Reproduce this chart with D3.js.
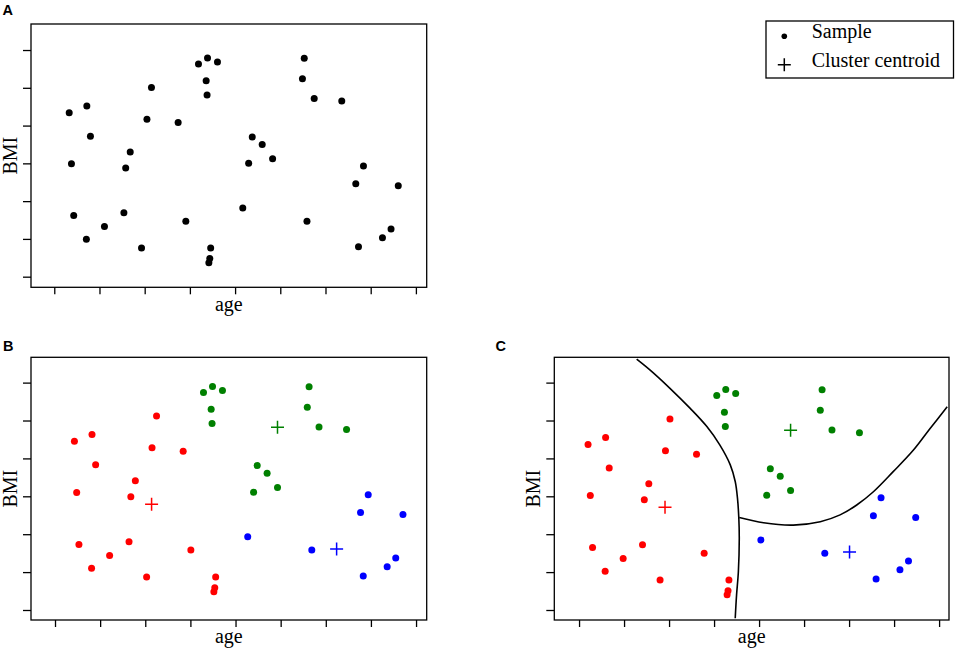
<!DOCTYPE html>
<html>
<head>
<meta charset="utf-8">
<script src="https://cdn.jsdelivr.net/npm/d3@7"></script>
<style>
  body { margin: 0; background: #fff; }
  svg { display: block; }
</style>
</head>
<body>
<svg id="chart" width="957" height="650"></svg>
<script>
// sample positions, in tick units of panel A
const age = [0.33, 0.72, 0.80, 0.38, 0.43, 0.71, 1.11, 1.54, 1.58, 1.68, 1.93, 2.05, 2.15, 2.74, 2.91,
  3.19, 3.39, 3.61, 3.36, 3.38, 3.46, 3.44, 3.42, 4.17, 4.30, 4.38, 4.60, 4.83, 5.49, 5.53, 5.75,
  5.59, 6.36, 6.67, 6.84, 6.73, 7.26, 7.45, 7.61];
const bmi = [4.34, 4.52, 3.72, 2.99, 1.62, 0.99, 1.33, 1.69, 2.88, 3.30, 0.76, 4.17, 5.01, 4.08, 1.47,
  5.63, 5.79, 5.68, 5.19, 4.81, 0.76, 0.48, 0.37, 1.82, 3.00, 3.70, 3.50, 3.12, 5.24, 5.78, 4.72,
  1.47, 4.65, 2.46, 2.93, 0.79, 1.03, 1.26, 2.41];
const cluster = [0, 0, 0, 0, 0, 0, 0, 0, 0, 0, 0, 0, 0, 0, 0,
  1, 1, 1, 1, 1, 0, 0, 0, 2, 1, 1, 1, 1, 1, 1, 1,
  2, 1, 2, 2, 2, 2, 2, 2];

const clusterColors = ["#ff0000", "#008000", "#0000ff"];
const centroidAge = [2.04, 4.83, 6.14];
const centroidBmi = [2.68, 4.71, 1.50];

// decision boundaries in panel C
const boundary1Age = [1.41, 1.71, 2.15, 2.60, 2.97, 3.26, 3.49, 3.60, 3.65, 3.68, 3.69, 3.67, 3.63, 3.60];
const boundary1Bmi = [6.59, 6.30, 5.82, 5.29, 4.81, 4.32, 3.80, 3.36, 2.92, 2.39, 1.86, 0.98, 0.37, -0.25];
const boundary2Age = [3.69, 4.23, 4.89, 5.49, 5.93, 6.30, 6.67, 7.11, 7.56, 7.93, 8.31];
const boundary2Bmi = [2.41, 2.27, 2.21, 2.30, 2.48, 2.74, 3.09, 3.62, 4.19, 4.76, 5.33];

const ageTicks = [0, 1, 2, 3, 4, 5, 6, 7, 8];
const bmiTicks = [0, 1, 2, 3, 4, 5, 6];

const legendLabels = ["Sample", "Cluster centroid"];

const panels = [
  { label: "A", left: 31, top: 24, width: 395.7, height: 263.3,
    xDom: [-0.515, 8.239], yDom: [-0.281, 6.689], xShift: 0, yShift: 0,
    labelX: 2.5, labelY: 14.5, colored: false, centroids: false, lines: false },
  { label: "B", left: 31, top: 357.3, width: 395.7, height: 262.7,
    xDom: [-0.632, 8.136], yDom: [-0.374, 6.558], xShift: -0.1, yShift: -0.11,
    labelX: 3, labelY: 351, colored: true, centroids: true, lines: false },
  { label: "C", left: 554.3, top: 357.3, width: 394.7, height: 262.7,
    xDom: [-0.42, 8.35], yDom: [-0.294, 6.638], xShift: 0.13, yShift: -0.03,
    labelX: 495.5, labelY: 350.5, colored: true, centroids: true, lines: true }
];

const svg = d3.select("#chart");
const serif = "'Liberation Serif', 'Times New Roman', serif";
const plusPath = "M-6.5,0H6.5M0,-6.5V6.5";

const samples = age.map((a, i) => ({ age: a, bmi: bmi[i], cluster: cluster[i] }));

panels.forEach((p, pi) => {
  const x = d3.scaleLinear().domain(p.xDom).range([0, p.width]);
  const y = d3.scaleLinear().domain(p.yDom).range([p.height, 0]);

  const g = svg.append("g").attr("transform", `translate(${p.left},${p.top})`);

  svg.append("text")
    .attr("x", p.labelX).attr("y", p.labelY)
    .style("font-family", "'Liberation Sans', Arial, sans-serif")
    .style("font-weight", "bold")
    .style("font-size", "14.5px")
    .text(p.label);

  // axes: ticks only, no labels
  const xAxis = g.append("g")
    .attr("transform", `translate(0,${p.height})`)
    .call(d3.axisBottom(x).tickValues(ageTicks.map(t => t + p.xShift)).tickSize(7).tickFormat(""));
  const yAxis = g.append("g")
    .call(d3.axisLeft(y).tickValues(bmiTicks.map(t => t + p.yShift)).tickSize(8).tickFormat(""));
  [xAxis, yAxis].forEach(ax => {
    ax.select(".domain").remove();
    ax.selectAll(".tick line").attr("stroke", "#000").attr("stroke-width", 1.3);
  });

  g.append("text")
    .attr("x", p.width / 2).attr("y", p.height + 23.5)
    .attr("text-anchor", "middle")
    .style("font-family", serif).style("font-size", "20px")
    .text("age");
  g.append("text")
    .attr("transform", `translate(-14.5,${p.height / 2}) rotate(-90)`)
    .attr("text-anchor", "middle")
    .style("font-family", serif).style("font-size", "20px")
    .text("BMI");

  const clipId = "clip" + pi;
  g.append("clipPath").attr("id", clipId)
    .append("rect").attr("width", p.width).attr("height", p.height);

  if (p.lines) {
    const line = d3.line()
      .x(d => x(d[0])).y(d => y(d[1]))
      .curve(d3.curveCatmullRom);
    [[boundary1Age, boundary1Bmi], [boundary2Age, boundary2Bmi]].forEach(([xs, ys]) => {
      g.append("path")
        .attr("clip-path", `url(#${clipId})`)
        .attr("d", line(xs.map((v, i) => [v, ys[i]])))
        .attr("fill", "none")
        .attr("stroke", "#000")
        .attr("stroke-width", 1.6);
    });
  }

  g.selectAll("circle.sample")
    .data(samples)
    .enter().append("circle")
    .attr("class", "sample")
    .attr("cx", d => x(d.age))
    .attr("cy", d => y(d.bmi))
    .attr("r", 3.5)
    .attr("fill", d => p.colored ? clusterColors[d.cluster] : "#000");

  if (p.centroids) {
    g.selectAll("path.centroid")
      .data(centroidAge.map((a, i) => ({ age: a, bmi: centroidBmi[i], color: clusterColors[i] })))
      .enter().append("path")
      .attr("class", "centroid")
      .attr("transform", d => `translate(${x(d.age)},${y(d.bmi)})`)
      .attr("d", plusPath)
      .attr("stroke", d => d.color)
      .attr("stroke-width", 1.5);
  }

  g.append("rect")
    .attr("width", p.width).attr("height", p.height)
    .attr("fill", "none")
    .attr("stroke", "#000")
    .attr("stroke-width", 1.3);
});

// legend
const legend = svg.append("g").attr("transform", "translate(766,21)");
legend.append("rect")
  .attr("width", 187.5).attr("height", 57)
  .attr("fill", "#fff")
  .attr("stroke", "#000")
  .attr("stroke-width", 1.3);
legend.append("circle")
  .attr("cx", 18.3).attr("cy", 15.3).attr("r", 2.8).attr("fill", "#000");
legend.append("path")
  .attr("transform", "translate(18.3,43.7)")
  .attr("d", plusPath)
  .attr("stroke", "#000").attr("stroke-width", 1.5);
legend.selectAll("text.lab")
  .data(legendLabels)
  .enter().append("text")
  .attr("class", "lab")
  .attr("x", 45.7)
  .attr("y", (d, i) => 17 + i * 29.3)
  .style("font-family", serif).style("font-size", "20px")
  .text(d => d);
</script>
</body>
</html>
